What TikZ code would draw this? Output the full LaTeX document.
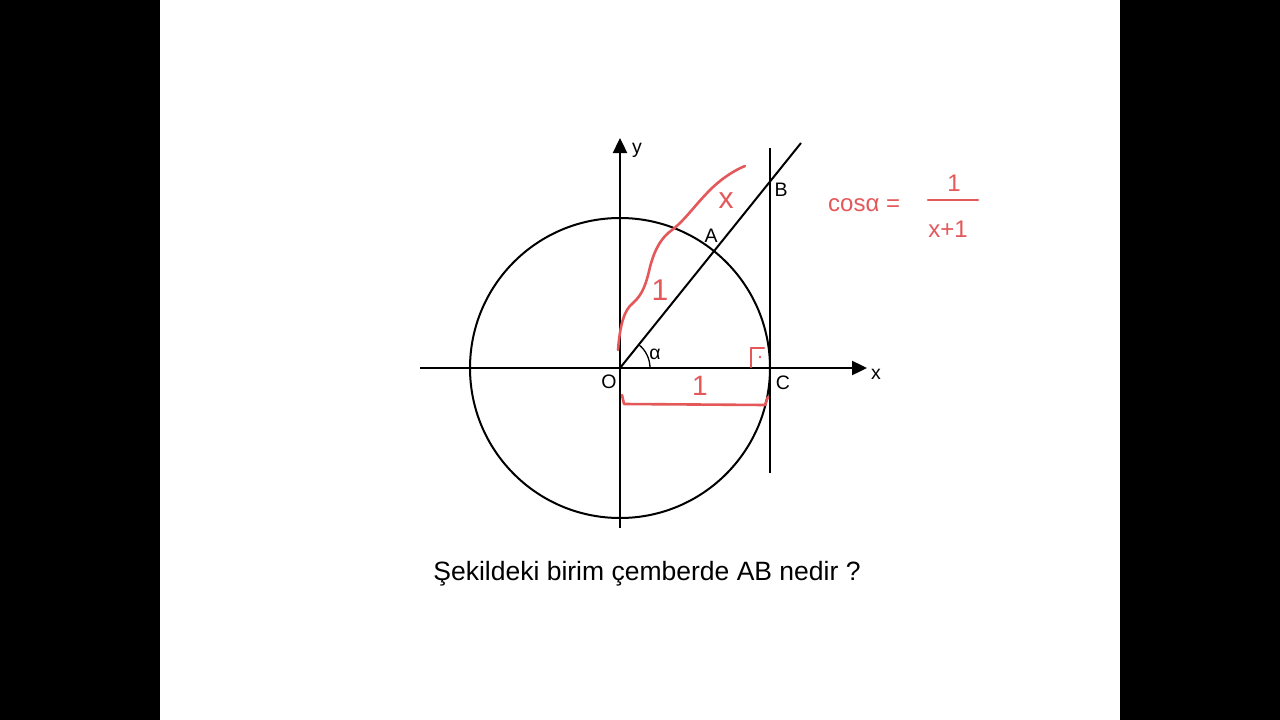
\documentclass[tikz,border=0pt]{standalone}
\usepackage{fontspec}
\setmainfont{Liberation Sans}
\usetikzlibrary{arrows.meta,calc}
\definecolor{pen}{RGB}{228,88,90}
\begin{document}
\begin{tikzpicture}[x=1pt,y=-1pt,
  line/.style={line width=2pt,black},
  axis/.style={line width=2.4pt,black,-{Triangle[length=15pt,width=14pt]}},
  lbl/.style={font=\fontsize{19.5}{19.5}\selectfont,inner sep=0pt},
  redpen/.style={pen,line width=2.6pt,line cap=round,line join=round},
  hand/.style={pen,font=\fontsize{24}{24}\selectfont,inner sep=0pt}]
\useasboundingbox (0,0) rectangle (1280,720);
\fill[white] (0,0) rectangle (1280,720);
\fill[black] (0,0) rectangle (160,720);
\fill[black] (1120,0) rectangle (1280,720);
% geometry
\coordinate (O) at (620,368);
\coordinate (C) at (770,368);
\coordinate (A) at (714,251);
\coordinate (B) at (770,181);
\coordinate (xs) at (420,368);
\coordinate (xe) at (867,368);
\coordinate (ys) at (620,528);
\coordinate (ye) at (620,138);
\coordinate (Ts) at (770,148);
\coordinate (Te) at (770,473);
\coordinate (R) at (801,143);
\coordinate (Aarc) at (650,368);
\draw[line] (O) circle[radius=150];
\draw[axis] (xs) -- (xe);
\draw[axis] (ys) -- (ye);
\draw[line] (Ts) -- (Te);
\draw[line] (O) -- (R);
\draw[line width=1.3pt] (Aarc) arc[start angle=0,end angle=-51.2,radius=30];
% labels
\node[lbl] (ly) at (637,150) {y};
\node[lbl] (lx) at (876,374) {x};
\node[lbl] (lO) at (609,382) {O};
\node[lbl] (lC) at (783,383) {C};
\node[lbl] (lA) at (711,236) {A};
\node[lbl] (lB) at (781,190) {B};
\node[lbl] (la) at (655,354) {α};
\node[font=\fontsize{26.5}{26.5}\selectfont,inner sep=0pt] (q) at (647,574) {Şekildeki birim çemberde AB nedir ?};
% red annotations
\draw[redpen] (618,350) .. controls (620,325) and (624,310) .. (633,303)
  .. controls (642,295) and (646,285) .. (650,267)
  .. controls (655,248) and (662,237) .. (672,230)
  .. controls (685,220) and (695,205) .. (710,190)
  .. controls (722,178) and (735,170) .. (745,166);
\node[hand,font=\fontsize{30}{30}\selectfont] (one1) at (660,290) {1};
\node[hand,font=\fontsize{30}{30}\selectfont] (xlab) at (726,201) {x};
\draw[redpen] (751,367) -- (751,348) -- (764,348);
\fill[pen] (760,357) circle[radius=1.3];
\draw[redpen] (622,395) -- (624,404) -- (765,405) -- (768,397);
\node[hand,font=\fontsize{28}{28}\selectfont] (one2) at (700,386) {1};
\node[hand,anchor=west] (cos) at (828,205) {cosα =};
\coordinate (f1) at (928,200);
\coordinate (f2) at (978,200);
\draw[redpen] (f1) -- (f2);
\node[hand] (num) at (954,183) {1};
\node[hand] (den) at (948,229) {x+1};
\end{tikzpicture}
\end{document}
